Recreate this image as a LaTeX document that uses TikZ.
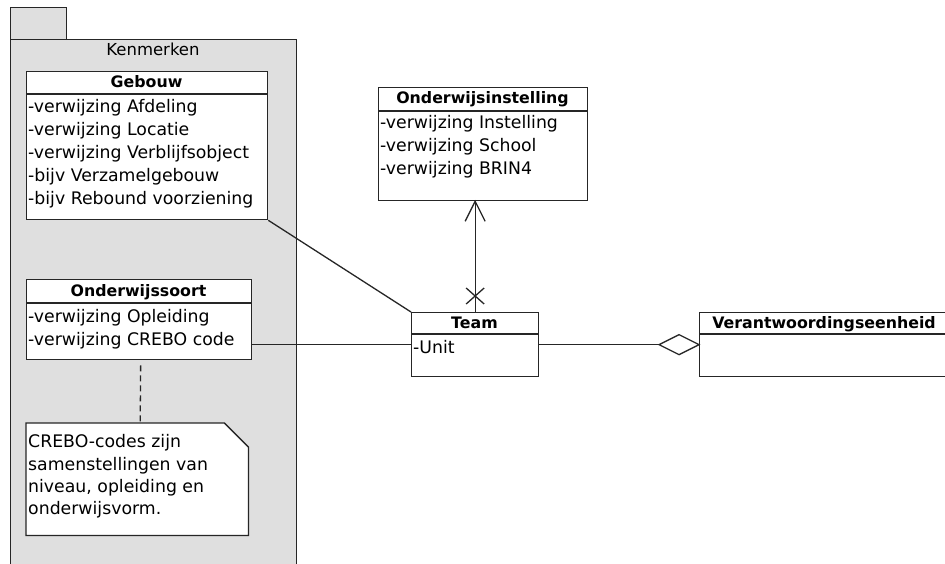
\documentclass[tikz,border=0pt]{standalone}
\usepackage{fontspec}
\setmainfont{DejaVu Sans}
\begin{document}
\begin{tikzpicture}[x=1pt,y=-1pt,
  ln/.style={line width=1.3pt, draw=black!85},
  box/.style={ln, fill=white, inner sep=0pt, anchor=north west},
  attr/.style={anchor=base west, inner sep=0pt, font=\fontsize{17.3}{20}\selectfont},
  ttl/.style={anchor=base, inner sep=0pt, font=\fontsize{15.8}{20}\selectfont\bfseries},
]
\useasboundingbox (0,0) rectangle (945,564);
\begin{scope}
\clip (0,0) rectangle (945,564);
% package
\node[ln, fill=gray!25, anchor=north west, minimum width=56pt, minimum height=32pt, inner sep=0pt] (tab) at (10,7) {};
\node[ln, fill=gray!25, anchor=north west, minimum width=286pt, minimum height=560pt, inner sep=0pt] (pkg) at (10,39) {};
\node[attr, anchor=base, font=\fontsize{16.5}{20}\selectfont] (pkgname) at (153,56) {Kenmerken};

% Gebouw
\node[box, minimum width=241pt, minimum height=148pt] (geb) at (26,71) {};
\draw[ln] ([yshift=-23pt]geb.north west) -- ([yshift=-23pt]geb.north east);
\node[ttl] (gebt) at (146.5,88) {Gebouw};
\node[attr] (geb1) at (28,113) {-verwijzing Afdeling};
\node[attr] (geb2) at (28,136) {-verwijzing Locatie};
\node[attr] (geb3) at (28,159) {-verwijzing Verblijfsobject};
\node[attr] (geb4) at (28,182) {-bijv Verzamelgebouw};
\node[attr] (geb5) at (28,205) {-bijv Rebound voorziening};

% Onderwijssoort
\node[box, minimum width=225pt, minimum height=80pt] (osoort) at (26,279) {};
\draw[ln] ([yshift=-24pt]osoort.north west) -- ([yshift=-24pt]osoort.north east);
\node[ttl] (osoortt) at (138.5,296) {Onderwijssoort};
\node[attr] (os1) at (28,322) {-verwijzing Opleiding};
\node[attr] (os2) at (28,345) {-verwijzing CREBO code};

% Note
\node[inner sep=0pt, minimum width=222pt, minimum height=112pt, anchor=north west] (note) at (26,423) {};
\draw[ln, fill=white] (note.north west) -- ([xshift=-24pt]note.north east) -- ([yshift=-24pt]note.north east) -- (note.south east) -- (note.south west) -- cycle;
\node[attr] (n1) at (28,447) {CREBO-codes zijn};
\node[attr] (n2) at (28,470) {samenstellingen van};
\node[attr] (n3) at (28,492) {niveau, opleiding en};
\node[attr] (n4) at (28,514) {onderwijsvorm.};
\draw[ln, dash pattern=on 6pt off 4pt] ([xshift=1.5pt,yshift=-5pt]osoort.south) -- ([xshift=3pt]note.north);

% Onderwijsinstelling
\node[box, minimum width=209pt, minimum height=113pt] (inst) at (378,87) {};
\draw[ln] ([yshift=-24pt]inst.north west) -- ([yshift=-24pt]inst.north east);
\node[ttl] (instt) at (482.5,104) {Onderwijsinstelling};
\node[attr] (in1) at (380,129) {-verwijzing Instelling};
\node[attr] (in2) at (380,152) {-verwijzing School};
\node[attr] (in3) at (380,175) {-verwijzing BRIN4};

% Team
\node[box, minimum width=127pt, minimum height=64pt] (team) at (411,312) {};
\draw[ln] ([yshift=-22pt]team.north west) -- ([yshift=-22pt]team.north east);
\node[ttl] (teamt) at (474.5,328) {Team};
\node[attr] (tm1) at (413,353) {-Unit};

% Verantwoordingseenheid
\node[box, minimum width=250pt, minimum height=64pt] (ver) at (699,312) {};
\draw[ln] ([yshift=-22pt]ver.north west) -- ([yshift=-22pt]ver.north east);
\node[ttl] (vert) at (824,328) {Verantwoordingseenheid};

% connectors
\draw[ln] (geb.south east) -- (team.north west);
\draw[ln] (team.west -| osoort.east) -- (team.west);
\coordinate (apex) at (team.north |- inst.south);
\draw[ln] (team.north) -- (apex);
\draw[ln] ([xshift=-10pt,yshift=-20pt]apex) -- (apex) -- ([xshift=10pt,yshift=-20pt]apex);
\draw[ln] ([xshift=-9pt,yshift=8pt]team.north) -- ([xshift=9pt,yshift=24pt]team.north);
\draw[ln] ([xshift=-9pt,yshift=24pt]team.north) -- ([xshift=9pt,yshift=8pt]team.north);
\coordinate (dtip) at ([xshift=-40pt]ver.west);
\draw[ln] (team.east) -- (dtip);
\draw[ln, fill=white] (ver.west) -- ++(-20,-10) -- (dtip) -- ++(20,10) -- cycle;
\end{scope}
\end{tikzpicture}
\end{document}
